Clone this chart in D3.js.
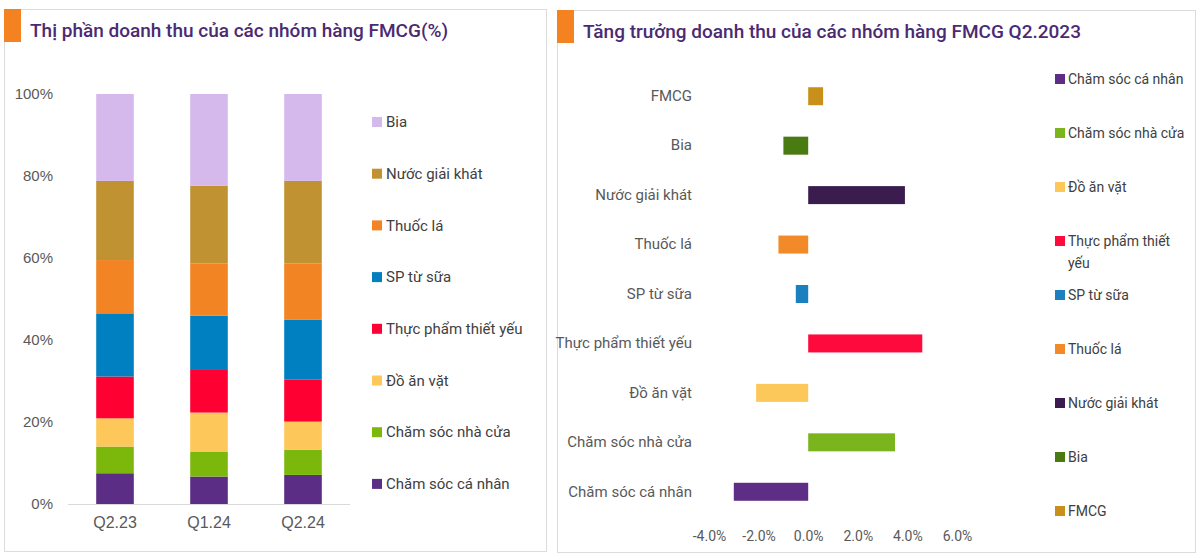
<!DOCTYPE html>
<html>
<head>
<meta charset="utf-8">
<script src="https://cdn.jsdelivr.net/npm/d3@7"></script>
<style>
  body { margin: 0; background: #fff; }
  svg { display: block; font-family: Roboto, "Noto Sans", sans-serif; }
</style>
</head>
<body>
<svg id="chart" width="1200" height="559"></svg>
<script>
// ---- data: left chart, revenue share (%)
const periods = ["Q2.23", "Q1.24", "Q2.24"]
const shareGroups = ["Chăm sóc cá nhân", "Chăm sóc nhà cửa", "Đồ ăn vặt", "Thực phẩm thiết yếu",
  "SP từ sữa", "Thuốc lá", "Nước giải khát", "Bia"]
const shareQ223 = [7.5, 6.5, 6.9, 10.2, 15.4, 13.0, 19.3, 21.2]
const shareQ124 = [6.7, 6.1, 9.5, 10.6, 13.0, 12.8, 18.9, 22.4]
const shareQ224 = [7.1, 6.1, 6.9, 10.3, 14.6, 13.7, 20.1, 21.2]
const shareColors = ["#5c2d84", "#7cb80c", "#fdc759", "#ff0033", "#0080c0", "#f28424", "#c19232", "#d5b8ec"]
const shareTicks = [0, 0.2, 0.4, 0.6, 0.8, 1]

// ---- data: right chart, growth Q2.2023 (%)
const growthGroups = ["FMCG", "Bia", "Nước giải khát", "Thuốc lá", "SP từ sữa",
  "Thực phẩm thiết yếu", "Đồ ăn vặt", "Chăm sóc nhà cửa", "Chăm sóc cá nhân"]
const growthValues = [0.6, -1.0, 3.9, -1.2, -0.5, 4.6, -2.1, 3.5, -3.0]
const growthColors = ["#c8901a", "#4a7a12", "#3b1c4f", "#f28a2a", "#1b7fc0", "#ff0a3c", "#fcc85a", "#7ab51d", "#5e2e86"]
const growthTicks = [-4, -2, 0, 2, 4, 6]

const TITLE_COLOR = "#4b2a72"
const TEXT_COLOR = "#595959"
const BORDER = "#dcdcdc"

const svg = d3.select("#chart")
const locale = d3.formatLocale({ decimal: ".", thousands: ",", grouping: [3], currency: ["", ""], minus: "-" })

// panel frames + title blocks
function panel(x0, x1, y0, y1, title) {
  svg.append("rect")
    .attr("x", x0 + 0.5).attr("y", y0 + 0.5)
    .attr("width", x1 - x0).attr("height", y1 - y0)
    .attr("fill", "none").attr("stroke", BORDER)
  svg.append("rect")
    .attr("x", x0).attr("y", y0)
    .attr("width", 17).attr("height", 33)
    .attr("fill", "#f58220")
  svg.append("text")
    .attr("x", x0 + 26).attr("y", y0 + 28)
    .attr("fill", TITLE_COLOR)
    .attr("font-size", 19).attr("font-weight", 500)
    .text(title)
}
panel(4, 546, 9, 551, "Thị phần doanh thu của các nhóm hàng FMCG(%)")
panel(557, 1195, 10, 552, "Tăng trưởng doanh thu của các nhóm hàng FMCG Q2.2023")

// ================= left: stacked 100% columns =================
const rows = periods.map((p, i) => {
  const vals = [shareQ223, shareQ124, shareQ224][i]
  const r = { period: p }
  shareGroups.forEach((g, j) => { r[g] = vals[j] / 100 })
  return r
})
const stack = d3.stack().keys(shareGroups)(rows)

const x1 = d3.scaleBand().domain(periods).range([68, 350]).paddingInner(0.6).paddingOuter(0.3)
const y1 = d3.scaleLinear().domain([0, 1]).range([504, 94])

const gL = svg.append("g")
gL.selectAll("g.layer")
  .data(stack)
  .join("g")
  .attr("class", "layer")
  .attr("fill", (d, i) => shareColors[i])
  .selectAll("rect")
  .data(d => d)
  .join("rect")
  .attr("x", d => x1(d.data.period))
  .attr("width", x1.bandwidth())
  .attr("y", d => y1(d[1]))
  .attr("height", d => y1(d[0]) - y1(d[1]))

gL.append("line")
  .attr("x1", 68).attr("x2", 350)
  .attr("y1", y1(0) + 0.5).attr("y2", y1(0) + 0.5)
  .attr("stroke", "#d9d9d9")

const yAxisL = gL.append("g")
  .attr("transform", "translate(53,0)")
  .call(d3.axisLeft(y1).tickValues(shareTicks).tickFormat(d3.format(".0%")).tickSize(0).tickPadding(0))
yAxisL.select(".domain").remove()
yAxisL.selectAll("text")
  .attr("font-family", '"Liberation Sans", Arial, sans-serif')
  .attr("font-size", 15).attr("fill", TEXT_COLOR)

const xAxisL = gL.append("g")
  .attr("transform", `translate(0,${y1(0)})`)
  .call(d3.axisBottom(x1).tickSize(0).tickPadding(13))
xAxisL.select(".domain").remove()
xAxisL.selectAll("text")
  .attr("font-family", '"Liberation Sans", Arial, sans-serif')
  .attr("font-size", 16).attr("fill", TEXT_COLOR)

// left legend (top = last series)
const legL = gL.append("g")
const legOrderL = shareGroups.map((g, i) => i).reverse()
legL.selectAll("g")
  .data(legOrderL)
  .join("g")
  .attr("transform", (d, i) => `translate(372,${122 + i * 51.7})`)
  .each(function(d) {
    const g = d3.select(this)
    g.append("rect").attr("x", 0).attr("y", -5).attr("width", 10).attr("height", 10).attr("fill", shareColors[d])
    g.append("text").attr("x", 14).attr("dy", "0.35em")
      .attr("font-size", 15).attr("fill", "#404040")
      .text(shareGroups[d])
  })

// ================= right: diverging bars =================
const x2 = d3.scaleLinear().domain([-4, 6]).range([709, 957])
const y2 = d3.scaleBand().domain(growthGroups).range([71.5, 516.5]).paddingInner(0.636).paddingOuter(0.318)

const gR = svg.append("g")
gR.selectAll("rect")
  .data(growthValues)
  .join("rect")
  .attr("x", d => x2(Math.min(0, d)))
  .attr("width", d => Math.abs(x2(d) - x2(0)))
  .attr("y", (d, i) => y2(growthGroups[i]))
  .attr("height", y2.bandwidth())
  .attr("fill", (d, i) => growthColors[i])

const yAxisR = gR.append("g")
  .attr("transform", "translate(692,0)")
  .call(d3.axisLeft(y2).tickSize(0).tickPadding(0))
yAxisR.select(".domain").remove()
yAxisR.selectAll("text")
  .attr("font-family", "Roboto, sans-serif")
  .attr("font-size", 15).attr("fill", TEXT_COLOR)

const xAxisR = gR.append("g")
  .attr("transform", "translate(0,520)")
  .call(d3.axisBottom(x2).tickValues(growthTicks).tickFormat(d => locale.format(".1f")(d) + "%").tickSize(0).tickPadding(11))
xAxisR.select(".domain").remove()
xAxisR.selectAll("text")
  .attr("font-family", "Roboto, sans-serif")
  .attr("font-size", 14).attr("fill", TEXT_COLOR)

// right legend, wraps long labels
const legOrderR = growthGroups.map((g, i) => i).reverse()
const legR = gR.append("g")
legR.selectAll("g")
  .data(legOrderR)
  .join("g")
  .attr("transform", (d, i) => `translate(1055,${79 + i * 54})`)
  .each(function(d) {
    const g = d3.select(this)
    g.append("rect").attr("x", 0).attr("y", -5).attr("width", 10).attr("height", 10).attr("fill", growthColors[d])
    const t = g.append("text").attr("font-size", 14).attr("fill", "#404040")
    const words = growthGroups[d].split(" ")
    let line = []
    let ts = t.append("tspan").attr("x", 13).attr("dy", "0.35em")
    words.forEach(w => {
      line.push(w)
      ts.text(line.join(" "))
      if (ts.node().getComputedTextLength() > 121 && line.length > 1) {
        line.pop()
        ts.text(line.join(" "))
        line = [w]
        ts = t.append("tspan").attr("x", 13).attr("dy", "1.55em").text(w)
      }
    })
  })
</script>
</body>
</html>
